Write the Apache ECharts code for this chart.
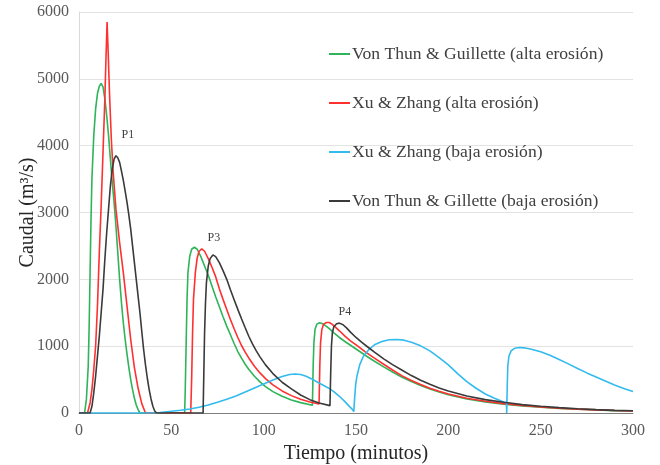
<!DOCTYPE html>
<html>
<head>
<meta charset="utf-8">
<script src="https://cdn.jsdelivr.net/npm/echarts@6/dist/echarts.min.js"></script>
<style>
  html, body { margin: 0; padding: 0; background: #fff; }
  #chart { width: 660px; height: 465px; }
</style>
</head>
<body>
<div id="chart"></div>
<script>
// hidrogramas [tiempo (min), caudal (m3/s)]
const vonThunAlta = [
  [0,0],[3,0],[4,200],[5,700],[5.5,1300],[6,2100],[6.5,2900],[7,3500],[8,4150],[9,4550],[10,4780],[11,4890],[12,4930],
  [13,4880],[14,4700],[15,4450],[16,4150],[17,3800],[18,3450],[19,3150],[20,2800],[21,2400],[22,2000],[23,1650],
  [24,1350],[25,1100],[26,880],[27,680],[28,500],[29,350],[30,220],[31,120],[32,50],[33,0],
  [57.2,0],[57.5,300],[58,1000],[58.5,1700],[59,2100],[60,2350],[61,2450],[62.5,2480],[64,2450],[66,2340],[68,2200],
  [70,2060],[72,1900],[74,1740],[76,1590],[78,1440],[80,1300],[82,1170],[84,1040],[86,920],[88,820],[90,730],[92,650],
  [95,550],[98,465],[101,395],[105,320],[110,250],[115,195],[120,155],[126.4,115],
  [126.8,700],[127.2,1050],[127.8,1250],[128.8,1330],[130.3,1350],[132,1335],[134,1295],[136,1250],[138,1200],
  [141,1130],[144,1070],[148,995],[152,920],[156,845],[160,775],[165,690],[170,610],[175,535],[180,470],[185,410],
  [190,360],[195,315],[200,275],[210,210],[220,165],[230,132],[240,105],[250,85],[260,68],[270,55],[280,44],[290,36],[300,29]
];
const xuZhangAlta = [
  [0,0],[4.6,0],[6,150],[7,350],[8,650],[9,1000],[10,1600],[11,2400],[12,3100],[13,3900],[14,4700],[14.6,5300],
  [15.2,5850],[15.8,5400],[16.5,4800],[17.5,4100],[18.5,3600],[20,3050],[22,2550],[24,2100],[26,1600],[28,1100],
  [30,680],[32,370],[34,140],[36,0],
  [60.5,0],[61,500],[61.5,1200],[62,1700],[63,2100],[64,2320],[65,2420],[66.5,2455],[68,2420],[70,2310],[72,2180],
  [74,2040],[76,1860],[78,1700],[80,1550],[82,1400],[84,1260],[86,1130],[88,1010],[90,910],[92,820],[95,700],[98,600],
  [101,515],[105,420],[110,330],[115,260],[120,205],[125,165],[130,135],
  [130.4,700],[130.8,1050],[131.5,1250],[132.5,1330],[134,1355],[135.5,1355],[137,1330],[139,1280],[141,1230],
  [144,1150],[147,1080],[151,1000],[155,915],[160,820],[165,730],[170,640],[175,555],[180,485],[185,425],[190,370],
  [195,325],[200,285],[210,220],[220,175],[230,140],[240,112],[250,90],[260,72],[270,58],[280,47],[290,38],[300,31]
];
const xuZhangBaja = [
  [0,0],[42,0],[45,10],[50,25],[55,40],[60,60],[65,85],[70,120],[75,160],[80,205],[85,255],[90,315],[95,375],
  [100,435],[105,495],[110,545],[114,575],[117,583],[120,575],[123,550],[126,510],[129,465],[132,420],[135,375],
  [138,320],[141,250],[144,170],[146,110],[148,55],[148.8,20],[149,0],
  [149.2,200],[149.8,420],[150.5,550],[152,720],[154,850],[157,950],[160,1020],[164,1070],[168,1095],[172,1100],
  [176,1090],[180,1060],[185,1005],[190,930],[195,830],[200,720],[205,590],[210,470],[215,370],[220,285],[225,220],
  [229,175],[231.5,150],[231.6,0],
  [231.9,400],[232.2,700],[232.8,850],[234,930],[236,970],[238.5,980],[241,975],[245,955],[250,915],[255,865],
  [260,800],[265,735],[270,665],[275,600],[280,540],[285,480],[290,420],[295,368],[300,320]
];
const vonThunBaja = [
  [0,0],[6,0],[7,100],[8,300],[9,550],[10,850],[11,1150],[12,1500],[13,1850],[14,2300],[15,2700],[16,3050],[17,3400],
  [18,3650],[19,3800],[20,3850],[21,3820],[22,3750],[23,3620],[24,3480],[25,3320],[26,3150],[27,2960],[28,2750],
  [29,2500],[30,2250],[31,2000],[32,1750],[33,1500],[34,1220],[35,950],[36,720],[37,520],[38,350],[39,210],[40,100],
  [41,30],[42,0],
  [67.2,0],[67.6,600],[68,1200],[68.5,1650],[69,1950],[70,2200],[71,2310],[72.5,2365],[74,2340],[76,2250],[78,2130],
  [80,2000],[82,1845],[84,1695],[86,1550],[88,1410],[90,1275],[92,1145],[94,1030],[96,930],[98,840],[101,720],
  [105,590],[110,460],[115,360],[120,270],[125,200],[130,150],[135.9,110],
  [136.3,600],[136.7,1000],[137.2,1200],[138,1290],[139.5,1335],[141,1345],[143,1320],[145,1270],[147,1210],
  [150,1130],[153,1060],[156,995],[160,910],[165,810],[170,720],[175,640],[180,560],[185,490],[190,430],[195,375],
  [200,330],[210,255],[220,200],[230,160],[240,125],[250,100],[260,80],[270,63],[280,50],[290,40],[300,33]
];
const peakLabels = [
  { name: 'P1', coord: [26.5, 4160] },
  { name: 'P3', coord: [73, 2615] },
  { name: 'P4', coord: [144, 1510] }
];

const serif = 'Liberation Serif';
const chart = echarts.init(document.getElementById('chart'));

function line(name, data, color, extra) {
  return Object.assign({
    name: name,
    type: 'line',
    data: data,
    showSymbol: false,
    symbol: 'none',
    smooth: false,
    animation: false,
    lineStyle: { color: color, width: 1.6 },
    itemStyle: { color: color }
  }, extra || {});
}

chart.setOption({
  animation: false,
  grid: { left: 79, right: 27, top: 12, bottom: 52, outerBoundsMode: 'none' },
  legend: {
    orient: 'vertical',
    left: 324,
    top: 40,
    itemWidth: 21,
    itemHeight: 2,
    itemGap: 31,
    icon: 'rect',
    textStyle: { fontFamily: serif, fontSize: 17.6, color: '#404040', padding: [0, 0, 0, -3] },
    data: [
      'Von Thun & Guillette (alta erosión)',
      'Xu & Zhang (alta erosión)',
      'Xu & Zhang (baja erosión)',
      'Von Thun & Gillette (baja erosión)'
    ]
  },
  xAxis: {
    type: 'value',
    min: 0, max: 300, interval: 50,
    name: 'Tiempo (minutos)',
    nameLocation: 'middle',
    nameGap: 28,
    nameTextStyle: { fontFamily: serif, fontSize: 20, color: '#262626' },
    axisLine: { show: true, lineStyle: { color: '#7f7f7f', width: 1 } },
    axisTick: { show: false },
    axisLabel: { fontFamily: serif, fontSize: 16, color: '#595959', margin: 10 },
    splitLine: { show: false }
  },
  yAxis: {
    type: 'value',
    min: 0, max: 6000, interval: 1000,
    name: 'Caudal (m³/s)',
    nameLocation: 'middle',
    nameGap: 41,
    nameMoveOverlap: false,
    nameTextStyle: { fontFamily: serif, fontSize: 20, color: '#262626' },
    axisLine: { show: true, lineStyle: { color: '#d9d9d9' } },
    axisTick: { show: false },
    axisLabel: { fontFamily: serif, fontSize: 16, color: '#595959', margin: 10, formatter: function (v) { return String(v); } },
    splitLine: { lineStyle: { color: '#e3e3e3', width: 1 } }
  },
  series: [
    line('Von Thun & Guillette (alta erosión)', vonThunAlta, '#2fb45a'),
    line('Xu & Zhang (alta erosión)', xuZhangAlta, '#ff3030'),
    line('Xu & Zhang (baja erosión)', xuZhangBaja, '#33bbee'),
    line('Von Thun & Gillette (baja erosión)', vonThunBaja, '#3a3a3a', {
      markPoint: {
        symbol: 'circle',
        symbolSize: 0,
        silent: true,
        label: { show: true, position: 'inside', formatter: '{b}', fontFamily: serif, fontSize: 12, color: '#404040' },
        data: peakLabels
      }
    })
  ]
});
</script>
</body>
</html>
